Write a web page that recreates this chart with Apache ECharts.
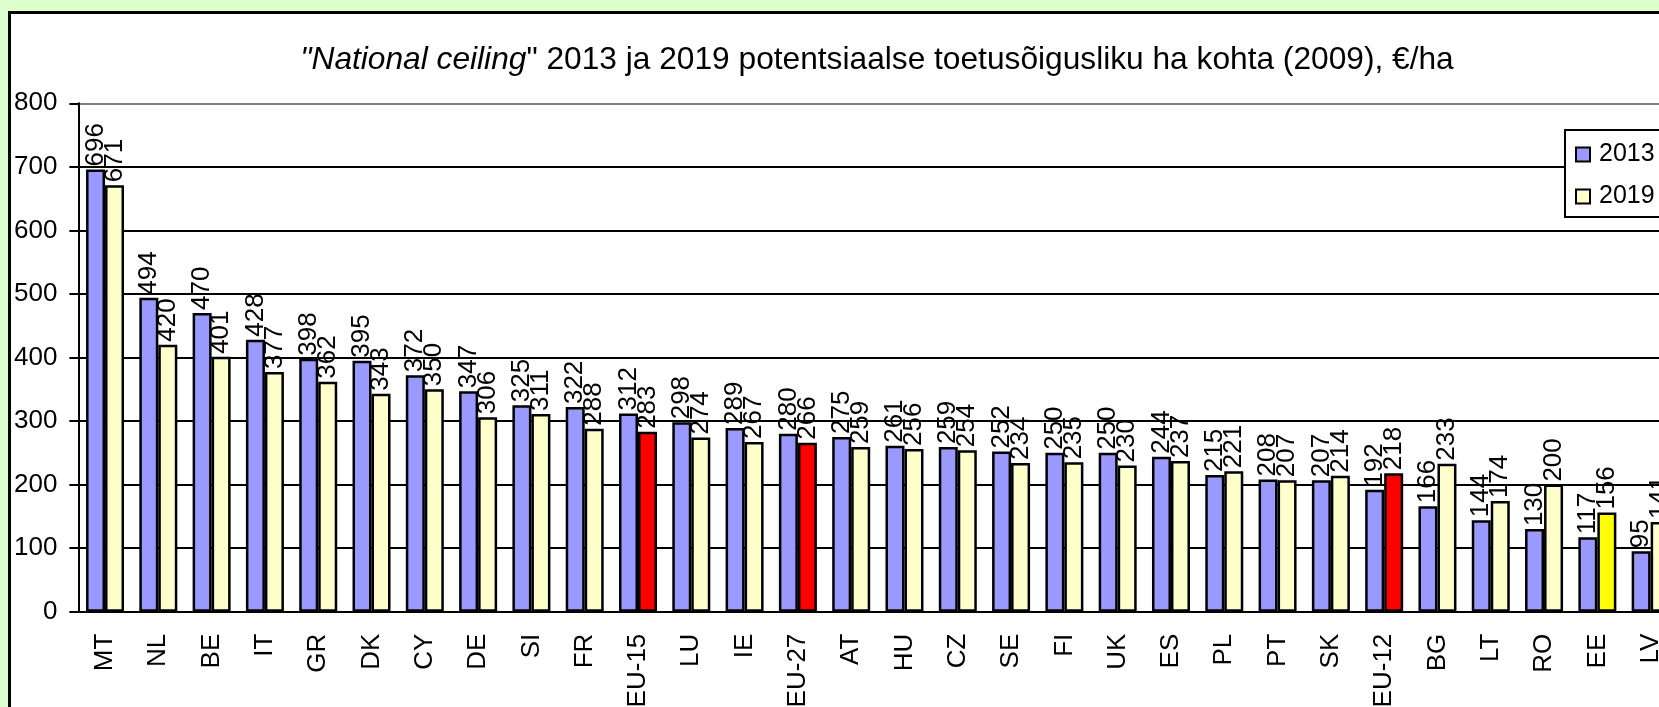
<!DOCTYPE html>
<html>
<head>
<meta charset="utf-8">
<script src="https://cdn.jsdelivr.net/npm/echarts@6/dist/echarts.min.js"></script>
<style>
  html, body { margin: 0; padding: 0; overflow: hidden; background: #DDFFCC; width: 1659px; height: 707px; }
  #chart { position: absolute; left: 8px; top: 11px; width: 1720px; height: 760px; border: 3px solid #000; background: #fff; }
</style>
</head>
<body>
<div id="chart"></div>
<script>
var categories = ['MT', 'NL', 'BE', 'IT', 'GR', 'DK', 'CY', 'DE', 'SI', 'FR', 'EU-15', 'LU', 'IE', 'EU-27', 'AT',
    'HU', 'CZ', 'SE', 'FI', 'UK', 'ES', 'PL', 'PT', 'SK', 'EU-12', 'BG', 'LT', 'RO', 'EE', 'LV'];
var values2013 = [696, 494, 470, 428, 398, 395, 372, 347, 325, 322, 312, 298, 289, 280, 275,
    261, 259, 252, 250, 250, 244, 215, 208, 207, 192, 166, 144, 130, 117, 95];
var values2019 = [671, 420, 401, 377, 362, 343, 350, 306, 311, 288, 283, 274, 267, 266, 259,
    256, 254, 234, 235, 230, 237, 221, 207, 214, 218, 233, 174, 200, 156, 141];
var redCats = ['EU-15', 'EU-27', 'EU-12'];
var yellowCats = ['EE'];
var yTicks = [0, 100, 200, 300, 400, 500, 600, 700, 800];

var font = '"Liberation Sans", Arial, sans-serif';

var data2019 = values2019.map(function (v, i) {
    var c = '#FFFFCC';
    if (redCats.indexOf(categories[i]) >= 0) c = '#FF0000';
    if (yellowCats.indexOf(categories[i]) >= 0) c = '#FFFF00';
    return {value: v, itemStyle: {color: c}};
});

var barLabel = {
    show: true,
    position: 'top',
    rotate: 90,
    align: 'left',
    verticalAlign: 'middle',
    distance: 3,
    fontSize: 26,
    fontFamily: font,
    color: '#000'
};

// top line (800) is the grey plot border, the rest black
var gridColors = yTicks.map(function (t) {
    return t == 800 ? '#808080' : '#000';
});

var ech = echarts.init(document.getElementById('chart'));
var option = {
    animation: false,
    textStyle: {fontFamily: font},
    title: {
        text: '{i|"National ceiling}{n|" 2013 ja 2019 potentsiaalse toetusõigusliku ha kohta (2009), €/ha}',
        left: 861,
        top: 25,
        textAlign: 'center',
        textStyle: {
            rich: {
                i: {fontSize: 31.7, fontStyle: 'italic', fontWeight: 'normal', fontFamily: font, color: '#000'},
                n: {fontSize: 31.7, fontWeight: 'normal', fontFamily: font, color: '#000'}
            }
        }
    },
    legend: {
        left: 1554,
        top: 116,
        orient: 'vertical',
        icon: 'rect',
        itemWidth: 14,
        itemHeight: 14,
        itemGap: 15,
        padding: [11, 14, 7, 10],
        borderColor: '#000',
        borderWidth: 2,
        backgroundColor: '#fff',
        textStyle: {fontSize: 25, fontFamily: font, color: '#000', lineHeight: 27, padding: [0, 0, 0, 4]},
        data: ['2013', '2019']
    },
    grid: {
        left: 66.3,
        top: 89.3,
        width: 1600,
        height: 508.4
    },
    xAxis: {
        type: 'category',
        data: categories,
        axisLine: {lineStyle: {color: '#000', width: 2}},
        axisTick: {length: 8, interval: 0, lineStyle: {color: '#000', width: 2}},
        axisLabel: {interval: 0, rotate: 90, margin: 22, fontSize: 26, fontFamily: font, color: '#000'}
    },
    yAxis: {
        type: 'value',
        min: 0,
        max: 800,
        interval: 100,
        axisLine: {show: true, lineStyle: {color: '#000', width: 2}},
        axisTick: {show: true, length: 9, lineStyle: {color: '#000', width: 2}},
        axisLabel: {margin: 21, fontSize: 26, fontFamily: font, color: '#000'},
        splitLine: {lineStyle: {color: gridColors, width: 2}}
    },
    series: [
        {
            name: '2013',
            type: 'bar',
            barWidth: 19,
            barGap: '0%',
            data: values2013,
            itemStyle: {color: '#9999FF', borderColor: '#000', borderWidth: 2.5},
            label: barLabel
        },
        {
            name: '2019',
            type: 'bar',
            barWidth: 19,
            data: data2019,
            itemStyle: {color: '#FFFFCC', borderColor: '#000', borderWidth: 2.5},
            label: barLabel
        }
    ]
};
ech.setOption(option);
</script>
</body>
</html>
